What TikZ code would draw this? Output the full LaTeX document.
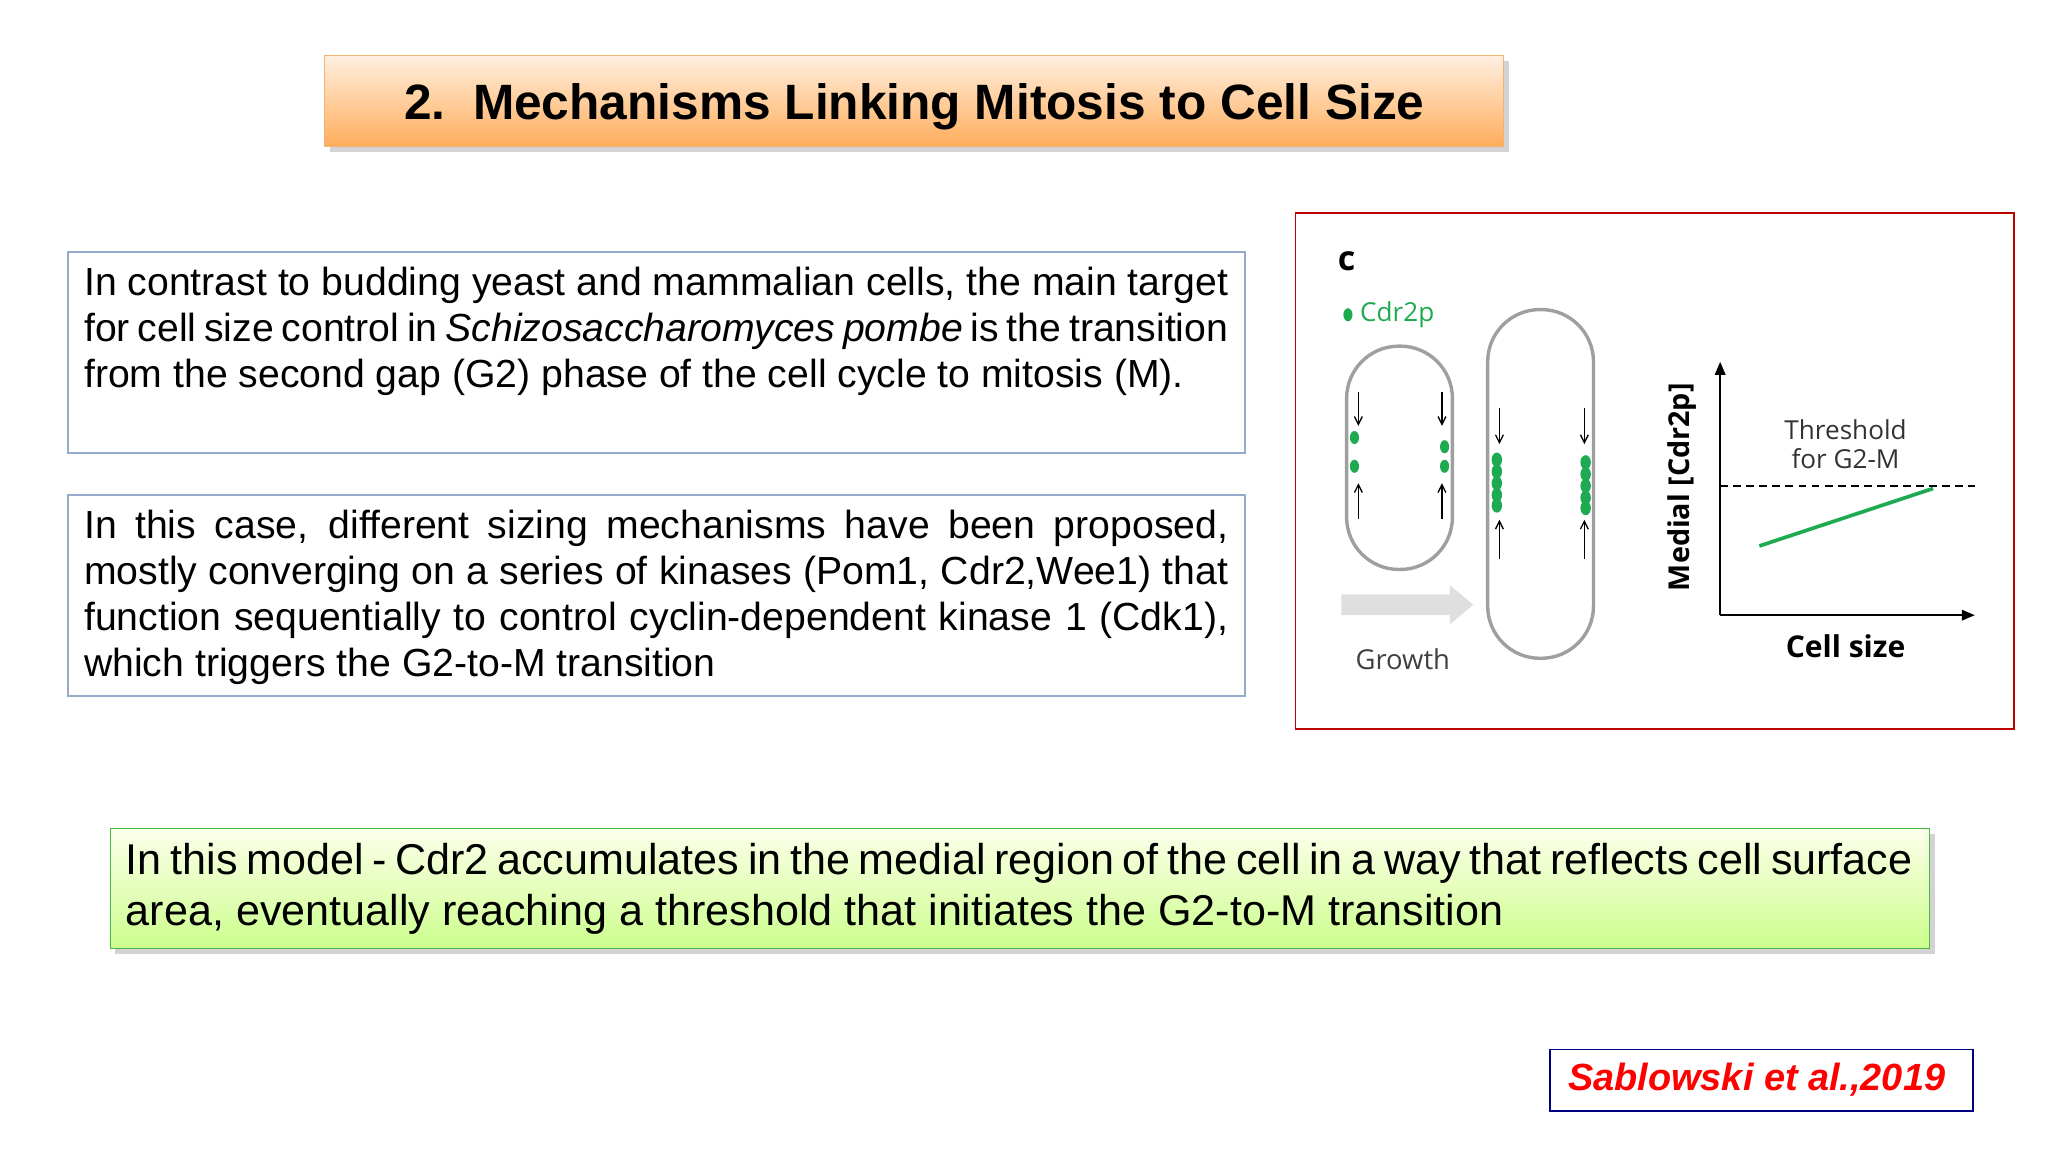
\documentclass[tikz,border=0pt]{standalone}
\usepackage{fontspec}
\setmainfont{Liberation Sans}
\newfontfamily\figfont{Open Sans}
\usetikzlibrary{shadows,arrows.meta}
\definecolor{boxblue}{RGB}{150,170,205}
\definecolor{figgreen}{RGB}{30,170,80}
\newcommand{\nohyph}{\hyphenpenalty=10000 \exhyphenpenalty=10000 }
\begin{document}
\begin{tikzpicture}[x=0.5pt,y=-0.5pt,
  txtbox/.style={draw=boxblue,line width=0.6pt,fill=white},
  bodytxt/.style={anchor=north west,inner sep=0pt,text width=438pt,align=justify,font=\fontsize{15}{17.6}\selectfont},
  cell/.style={draw=gray!75,line width=1.3pt,rounded corners=20pt},
  thin/.style={-{Straight Barb[length=3pt,width=3pt]},line width=0.5pt},
  dotg/.style={fill=figgreen,draw=none}]
\useasboundingbox (0,0) rectangle (1568,882);
% title
\node[draw=orange!60!brown!60,top color=orange!12,bottom color=orange!65,drop shadow={shadow xshift=2pt,shadow yshift=-2pt,opacity=0.35},
  minimum width=451.5pt,minimum height=35pt,inner sep=0pt,anchor=north west] (title) at (248,42) {};
\node[font=\bfseries\fontsize{19}{22}\selectfont] (tt) at (700,82) {2.\ \ Mechanisms Linking Mitosis to Cell Size};
% boxes
\draw[txtbox] (52,193) rectangle (953,347);
\node[bodytxt] (t1) at (64,204) {\nohyph In contrast to budding yeast and mammalian cells, the main target for cell size control in \textit{Schizosaccharomyces pombe} is the transition from the second gap (G2) phase of the cell cycle to mitosis (M).};
\draw[txtbox] (52,379) rectangle (953,533);
\node[bodytxt] (t2) at (64,390) {\nohyph In this case, different sizing mechanisms have been proposed, mostly converging on a series of kinases (Pom1, Cdr2,Wee1) that function sequentially to control cyclin-dependent kinase 1 (Cdk1), which triggers the G2-to-M transition};
% green box
\node[draw=green!45!gray,top color=green!8!yellow!8,bottom color=green!45!yellow!45,drop shadow={shadow xshift=2pt,shadow yshift=-2pt,opacity=0.35},
  minimum width=696.5pt,minimum height=46pt,inner sep=0pt,anchor=north west] (gb) at (84,634) {};
\node[anchor=north west,inner sep=0pt,text width=684pt,align=justify,font=\fontsize{16.5}{19.5}\selectfont] (gt) at (96,645)
 {\nohyph In this model - Cdr2 accumulates in the medial region of the cell in a way that reflects cell surface area, eventually reaching a threshold that initiates the G2-to-M transition};
% citation
\node[draw=blue!50!black,line width=0.6pt,minimum width=162pt,minimum height=23.5pt,anchor=north west,inner sep=0pt] (cite) at (1186,803) {};
\node[text=red,font=\bfseries\itshape\fontsize{14.5}{18}\selectfont] (ct) at (1345,827) {Sablowski et al.,2019};
% figure
\draw[red!75!black,line width=0.6pt] (992,163) rectangle (1542,558);
\node[font=\figfont\bfseries\fontsize{13}{15}\selectfont] (c) at (1031,200) {c};
\fill[dotg] (1032,241) ellipse (3.5 and 5);
\node[anchor=west,inner sep=0pt,text=figgreen,font=\figfont\fontsize{10}{12}\selectfont] (cdr) at (1041,241) {Cdr2p};
\draw[cell] (1031,265) rectangle (1112,436);
\draw[cell] (1139,237) rectangle (1220,504);
\foreach \x in {1040,1104}{\draw[thin] (\x,300)--(\x,326);\draw[thin] (\x,397)--(\x,370);}
\fill[dotg] (1037,335) ellipse (3.5 and 5); \fill[dotg] (1037,357) ellipse (3.5 and 5);
\fill[dotg] (1106,342) ellipse (3.5 and 5); \fill[dotg] (1106,357) ellipse (3.5 and 5);
\foreach \x in {1148,1213}{\draw[thin] (\x,312)--(\x,340);\draw[thin] (\x,428)--(\x,398);}
\foreach \y in {352,361,370,379,387}{\fill[dotg] (1146,\y) ellipse (4 and 5.5); \fill[dotg] (1214,\y+2) ellipse (4 and 5.5);}
\fill[gray!25] (1027,455) -- (1110,455) -- (1110,448) -- (1128,463) -- (1110,478) -- (1110,471) -- (1027,471) -- cycle;
\node[text=black!75,font=\figfont\fontsize{10.5}{12}\selectfont] (gr) at (1074,505) {Growth};
\coordinate (o) at (1317,471);
\coordinate (ytop) at (1317,277);
\coordinate (xend) at (1512,471);
\draw[-{Triangle[length=5pt,width=4pt]},line width=0.8pt] (o)--(ytop);
\draw[-{Triangle[length=5pt,width=4pt]},line width=0.8pt] (o)--(xend);
\draw[dashed,line width=0.8pt,dash pattern=on 3pt off 2pt] (1317,372)--(1512,372);
\draw[figgreen,line width=1.4pt] (1347,418)--(1480,374);
\node[rotate=90,font=\figfont\bfseries\fontsize{11}{13}\selectfont] (ml) at (1288,373) {Medial [Cdr2p]};
\node[font=\figfont\bfseries\fontsize{11.5}{13}\selectfont] (cs) at (1413,495) {Cell size};
\node[align=center,text=black!80,font=\figfont\fontsize{10}{11}\selectfont] (th) at (1413,340) {Threshold\\for G2-M};
\end{tikzpicture}
\end{document}
